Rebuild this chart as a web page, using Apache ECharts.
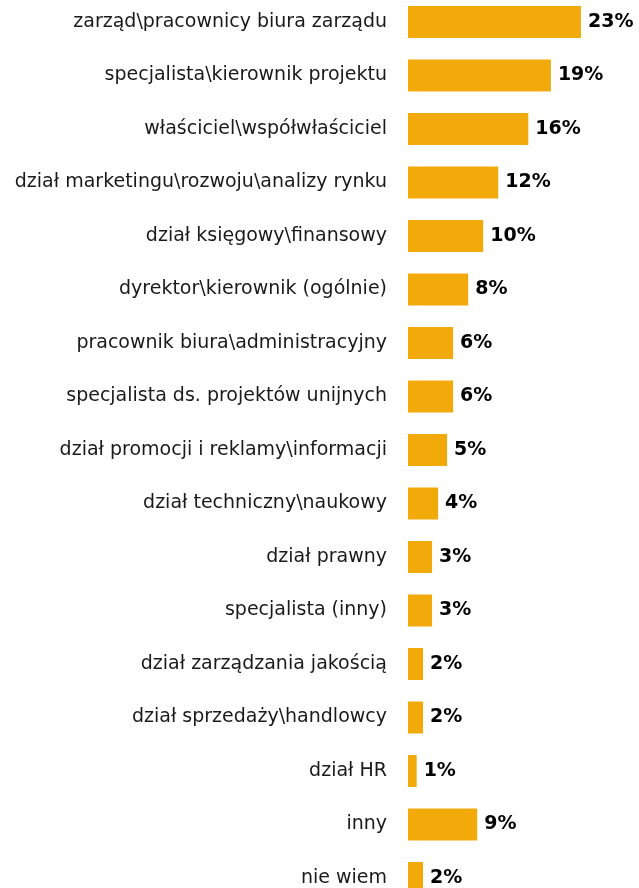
<!DOCTYPE html>
<html>
<head>
<meta charset="utf-8">
<script src="https://cdn.jsdelivr.net/npm/echarts@6/dist/echarts.min.js"></script>
<style>
html,body{margin:0;padding:0;background:#fff;}
#chart{width:639px;height:888px;}
</style>
</head>
<body>
<div id="chart"></div>
<script>
const categories = [
  'zarząd\\pracownicy biura zarządu',
  'specjalista\\kierownik projektu',
  'właściciel\\współwłaściciel',
  'dział marketingu\\rozwoju\\analizy rynku',
  'dział księgowy\\finansowy',
  'dyrektor\\kierownik (ogólnie)',
  'pracownik biura\\administracyjny',
  'specjalista ds. projektów unijnych',
  'dział promocji i reklamy\\informacji',
  'dział techniczny\\naukowy',
  'dział prawny',
  'specjalista (inny)',
  'dział zarządzania jakością',
  'dział sprzedaży\\handlowcy',
  'dział HR',
  'inny',
  'nie wiem'
];
const values = [23, 19, 16, 12, 10, 8, 6, 6, 5.2, 4, 3.2, 3.2, 2, 2, 1.15, 9.2, 2];
const valueLabels = ['23%', '19%', '16%', '12%', '10%', '8%', '6%', '6%', '5%', '4%', '3%', '3%', '2%', '2%', '1%', '9%', '2%'];

const chart = echarts.init(document.getElementById('chart'), null, {renderer: 'canvas'});
chart.setOption({
  animation: false,
  backgroundColor: '#ffffff',
  grid: {left: 408, top: -4.75, width: 225.6, height: 909.5, containLabel: false, outerBoundsMode: 'none'},
  xAxis: {
    type: 'value', min: 0, max: 30, show: false
  },
  yAxis: {
    type: 'category',
    data: categories,
    inverse: true,
    axisLine: {show: false},
    axisTick: {show: false},
    splitLine: {show: false},
    axisLabel: {
      margin: 21,
      color: '#1a1a1a',
      fontFamily: 'DejaVu Sans',
      fontSize: 19
    }
  },
  series: [{
    type: 'bar',
    data: values,
    barWidth: 32,
    itemStyle: {color: '#F2A90A'},
    label: {
      show: true,
      position: 'right',
      distance: 7,
      color: '#000',
      fontFamily: 'DejaVu Sans',
      fontWeight: 'bold',
      fontSize: 19,
      formatter: p => valueLabels[p.dataIndex]
    }
  }]
});
</script>
</body>
</html>
